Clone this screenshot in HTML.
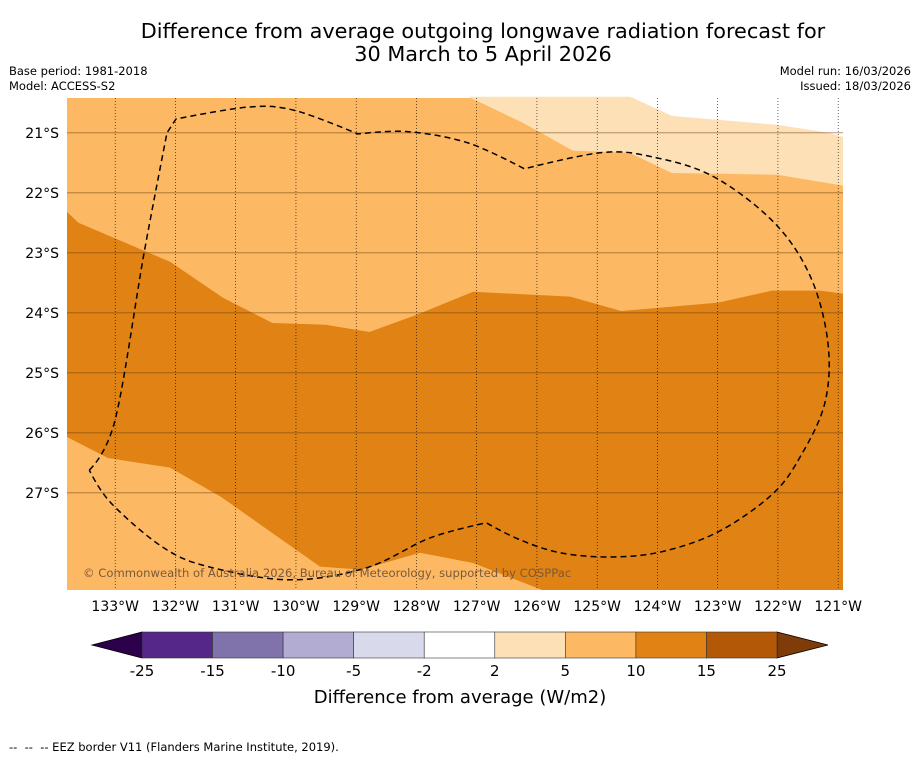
<!DOCTYPE html>
<html><head><meta charset="utf-8"><style>
body{margin:0;background:#fff;}
svg{display:block;font-family:"DejaVu Sans","Liberation Sans",sans-serif;}
</style></head><body>
<svg id="c" width="919" height="758" viewBox="0 0 919 758" xmlns="http://www.w3.org/2000/svg">
<text x="483" y="38" font-size="20.8" text-anchor="middle">Difference from average outgoing longwave radiation forecast for</text>
<text x="483" y="61" font-size="20.8" text-anchor="middle">30 March to 5 April 2026</text>
<text x="9" y="75" font-size="11.5">Base period: 1981-2018</text>
<text x="9" y="90" font-size="11.5">Model: ACCESS-S2</text>
<text x="911" y="75" font-size="11.5" text-anchor="end">Model run: 16/03/2026</text>
<text x="911" y="90" font-size="11.5" text-anchor="end">Issued: 18/03/2026</text>
<g id="map"></g>
<g id="axes"></g>
<g id="cbar"></g>
<text x="460" y="703" font-size="18" text-anchor="middle">Difference from average (W/m2)</text>
<text x="9" y="751" font-size="11.5">-- &#160;-- &#160;-- EEZ border V11 (Flanders Marine Institute, 2019).</text>
</svg>
<script>
// longitude in degrees West, latitude in degrees South
const lonTicks=[133,132,131,130,129,128,127,126,125,124,123,122,121];
const latTicks=[21,22,23,24,25,26,27];
const lonMin=133.8, lonMax=120.92, latMin=20.42, latMax=28.62;
const darkTop=[[133.8,22.32],[133.61,22.5],[132.09,23.15],[131.21,23.75],[130.39,24.17],[129.51,24.2],[128.78,24.32],[127.99,24.03],[127.06,23.65],[125.45,23.73],[124.6,23.97],[122.99,23.83],[122.1,23.63],[121.3,23.63],[120.92,23.68]];
const darkBottom=[[125.91,28.62],[127.06,28.17],[127.94,28.0],[128.92,28.28],[129.6,28.23],[131.24,27.07],[132.09,26.58],[133.12,26.42],[133.8,26.07]];
const paleRegion=[[127.14,20.4],[126.24,20.83],[125.4,21.3],[124.47,21.33],[123.76,21.67],[122.01,21.7],[120.92,21.88],[120.92,21.07],[121.17,21.0],[122.01,20.87],[123.76,20.72],[124.45,20.4]];
const whiteRegion=[[124.45,20.4],[123.76,20.72],[122.01,20.87],[121.17,21.0],[120.92,21.07],[120.92,20.4]];
const eez=[[133.43,26.62],[133.0,25.78],[132.52,23.0],[132.14,21.0],[131.99,20.77],[130.78,20.57],[130.01,20.63],[128.97,21.02],[128.15,20.98],[127.14,21.17],[126.21,21.6],[124.93,21.33],[124.09,21.4],[123.07,21.73],[122.06,22.5],[121.46,23.4],[121.17,24.5],[121.22,25.5],[121.63,26.4],[122.1,27.03],[122.99,27.65],[123.92,27.98],[124.77,28.07],[125.61,28.0],[126.29,27.78],[126.84,27.5],[127.77,27.75],[128.83,28.25],[130.1,28.45],[131.46,28.23],[132.22,27.9],[133.07,27.17],[133.43,26.62]];
const cbarLevels=["-25","-15","-10","-5","-2","2","5","10","15","25"];
const cbarColors=["#542788","#8073ac","#b2abd2","#d8daeb","#ffffff","#fee0b6","#fdb863","#e08214","#b35806"];

const NS="http://www.w3.org/2000/svg";
const X0=67,X1=843,Y0=98,Y1=590;
const px=l=>X0+(lonMin-l)/(lonMin-lonMax)*(X1-X0);
const py=l=>Y0+(l-latMin)/(latMax-latMin)*(Y1-Y0);
function mk(tag,attrs,parent){const e=document.createElementNS(NS,tag);for(const k in attrs)e.setAttribute(k,attrs[k]);parent.appendChild(e);return e;}
const pts=a=>a.map(p=>px(p[0]).toFixed(1)+","+py(p[1]).toFixed(1)).join(" ");
function smooth(a){
 const P=a.map(p=>[px(p[0]),py(p[1])]);
 let d="M"+P[0][0].toFixed(1)+","+P[0][1].toFixed(1);
 const sharp=new Set([0,3,4,7,10,25,P.length-1]);
 for(let i=0;i<P.length-1;i++){
  const p0=P[Math.max(0,i-1)],p1=P[i],p2=P[i+1],p3=P[Math.min(P.length-1,i+2)];
  const k1=sharp.has(i)?0:1/6,k2=sharp.has(i+1)?0:1/6;
  const c1=[p1[0]+(p2[0]-p0[0])*k1,p1[1]+(p2[1]-p0[1])*k1];
  const c2=[p2[0]-(p3[0]-p1[0])*k2,p2[1]-(p3[1]-p1[1])*k2];
  d+=` C${c1[0].toFixed(1)},${c1[1].toFixed(1)} ${c2[0].toFixed(1)},${c2[1].toFixed(1)} ${p2[0].toFixed(1)},${p2[1].toFixed(1)}`;
 }
 return d;
}
const map=document.getElementById('map');
let r=mk('rect',{x:X0,y:Y0,width:X1-X0,height:Y1-Y0,fill:'#fdb863'},map);


let p=mk('polygon',{points:pts(darkTop.concat([[120.92,latMax]],darkBottom)),fill:'#e08214'},map);


p=mk('polygon',{points:pts(paleRegion),fill:'#fee0b6'},map);


p=mk('polygon',{points:pts(whiteRegion),fill:'#ffffff'},map);


latTicks.forEach(l=>{
 const g=mk('line',{x1:X0,x2:X1,y1:py(l),y2:py(l),stroke:'#6b3d0a',"stroke-width":0.8,"stroke-opacity":0.6},map);
 
 
});
lonTicks.forEach(l=>{
 const g=mk('line',{x1:px(l),x2:px(l),y1:Y0,y2:Y1,stroke:'#000',"stroke-width":0.6,"stroke-dasharray":"1,2"},map);
 
 
});
p=mk('path',{d:smooth(eez),fill:'none',stroke:'#000',"stroke-width":1.5,"stroke-dasharray":"6,4"},map);


let t=mk('text',{x:83,y:577,"font-size":11.6,fill:'#7a5a3a'},map);t.textContent="© Commonwealth of Australia 2026, Bureau of Meteorology, supported by COSPPac";


const axes=document.getElementById('axes');
latTicks.forEach(l=>{const e=mk('text',{x:59,y:py(l)+5,"font-size":14,"text-anchor":"end"},axes);e.textContent=l+"°S";
 
 });
lonTicks.forEach(l=>{const e=mk('text',{x:px(l),y:611,"font-size":14,"text-anchor":"middle"},axes);e.textContent=l+"°W";
 
 });
const cb=document.getElementById('cbar');
const CX0=142,CX1=777,CY0=632,CY1=658,w=(CX1-CX0)/cbarColors.length;
p=mk('polygon',{points:`${CX0},${CY0} 92,645 ${CX0},${CY1}`,fill:'#2d004b',stroke:'#000',"stroke-width":0.8},cb);


p=mk('polygon',{points:`${CX1},${CY0} 828,645 ${CX1},${CY1}`,fill:'#7f3b08',stroke:'#000',"stroke-width":0.8},cb);


cbarColors.forEach((c,i)=>{const e=mk('rect',{x:CX0+i*w,y:CY0,width:w,height:CY1-CY0,fill:c,stroke:'#333',"stroke-width":0.6},cb);
 
 });
cbarLevels.forEach((s,i)=>{const e=mk('text',{x:CX0+i*w,y:676,"font-size":15,"text-anchor":"middle"},cb);e.textContent=s;
 
 });
</script>
</body></html>
